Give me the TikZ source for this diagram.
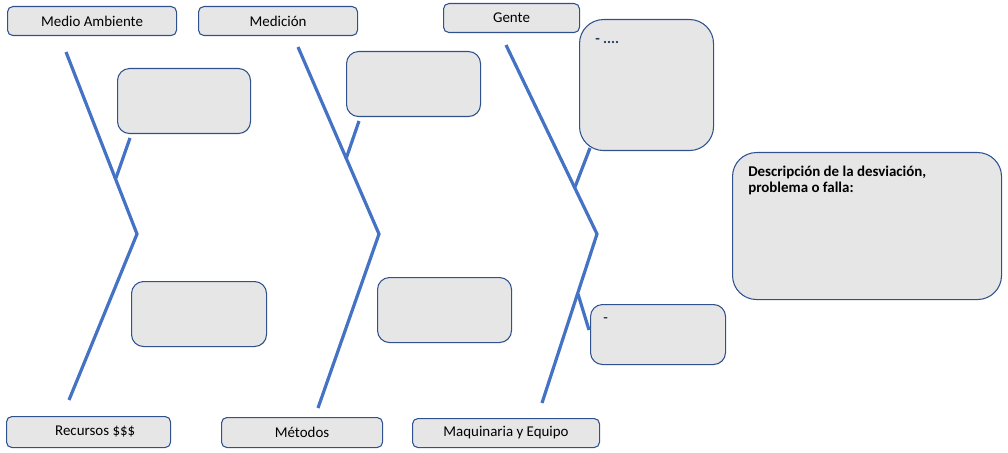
\documentclass[tikz,border=0pt]{standalone}
\usepackage{fontspec}
\setmainfont{Carlito}
\definecolor{bone}{HTML}{4472C4}
\definecolor{edge}{HTML}{2F528F}
\definecolor{boxfill}{HTML}{E6E6E6}
\definecolor{dots}{HTML}{1F3864}
\tikzset{
  bonepath/.style={draw=bone, line width=2.4pt},
  boxbase/.style={draw=edge, fill=boxfill, line width=0.8pt, inner sep=0pt, anchor=north west},
  lbl/.style={boxbase, rounded corners=4pt, font=\fontsize{11.2}{13}\selectfont},
  cause/.style={boxbase, rounded corners=9pt},
  bigcause/.style={boxbase, rounded corners=18pt},
  txt/.style={inner sep=0pt, anchor=north west, align=left},
}
\begin{document}
\begin{tikzpicture}[x=0.75pt,y=-0.75pt]
\useasboundingbox (0,0) rectangle (1008,453);
% label boxes
\node[lbl, minimum width=126.75pt, minimum height=21.75pt] (ma) at (7,6) {Medio Ambiente};
\node[lbl, minimum width=119.25pt, minimum height=21.75pt] (med) at (198,6) {Medición};
\node[lbl, minimum width=102pt, minimum height=21.75pt] (gen) at (443,3) {Gente};
\node[lbl, minimum width=123pt, minimum height=23.25pt] (rec) at (6,416) {\hspace*{10pt}Recursos \$\$\$};
\node[lbl, minimum width=120.75pt, minimum height=22.5pt] (met) at (221,417) {Métodos};
\node[lbl, minimum width=140.25pt, minimum height=21.75pt] (maq) at (412,418) {Maquinaria y Equipo};
% cause boxes
\node[cause, minimum width=99.75pt, minimum height=48.75pt] (b1) at (117,68) {};
\node[cause, minimum width=100.5pt, minimum height=48.75pt] (b2) at (346,51) {};
\node[bigcause, minimum width=100.5pt, minimum height=98.25pt] (b3) at (579,19) {};
\node[cause, minimum width=101.25pt, minimum height=48.75pt] (b4) at (131,281) {};
\node[cause, minimum width=100.5pt, minimum height=48.75pt] (b5) at (377,277) {};
\node[cause, minimum width=101.25pt, minimum height=45pt] (b6) at (590,304) {};
\node[bigcause, minimum width=201.75pt, minimum height=110.25pt] (desc) at (732,152) {};
% texts inside boxes
\node[txt, text=dots, font=\fontsize{11.2}{13}\selectfont\bfseries] (t3) at (595,38) {- ....};
\node[txt, font=\fontsize{11.2}{13}\selectfont] (t6) at (603,317) {-};
\node[txt, font=\fontsize{11.2}{12}\selectfont\bfseries] (td) at (748,166) {Descripción de la desviación,\\problema o falla:};
% bones
\coordinate (a1) at (66,52);  \coordinate (k1) at (137,234); \coordinate (z1) at (69,400);
\coordinate (a2) at (298,47); \coordinate (k2) at (379,234); \coordinate (z2) at (318,408);
\coordinate (a3) at (506,45); \coordinate (k3) at (597,234); \coordinate (z3) at (542,403);
\draw[bonepath] (a1) -- (k1) -- (z1);
\draw[bonepath] (a2) -- (k2) -- (z2);
\draw[bonepath] (a3) -- (k3) -- (z3);
% branches
\coordinate (s1) at (130,138); \coordinate (j1) at (116,178);
\coordinate (s2) at (359,121); \coordinate (j2) at (346,159);
\coordinate (s3) at (590,148); \coordinate (j3) at (575,187);
\coordinate (j6) at (578,294); \coordinate (s6) at (589,330);
\draw[bonepath] (s1) -- (j1);
\draw[bonepath] (s2) -- (j2);
\draw[bonepath] (s3) -- (j3);
\draw[bonepath] (j6) -- (s6);
\end{tikzpicture}
\end{document}
